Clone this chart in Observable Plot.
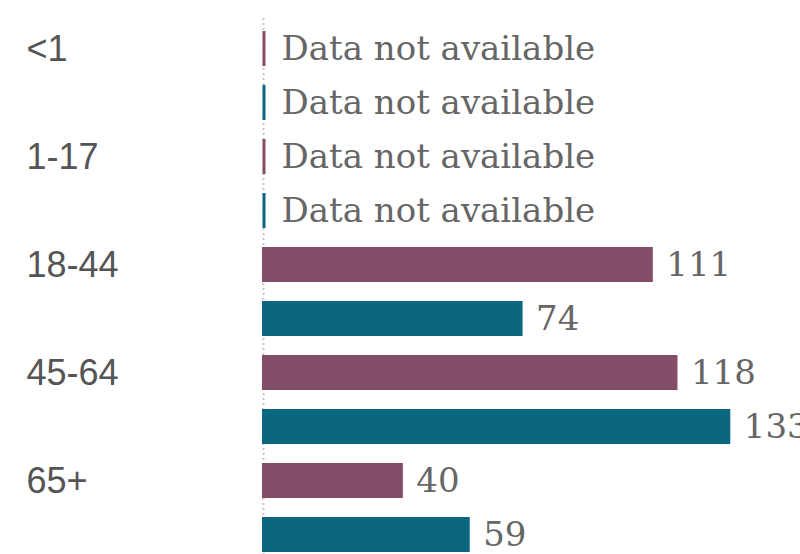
<!DOCTYPE html>
<html>
<head>
<meta charset="utf-8">
<script src="https://cdn.jsdelivr.net/npm/d3@7"></script>
<script src="https://cdn.jsdelivr.net/npm/@observablehq/plot@0.6"></script>
<style>
  html, body { margin: 0; padding: 0; background: #fff; overflow: hidden; }
  #chart svg { overflow: hidden; }
</style>
</head>
<body>
<div id="chart"></div>
<script>
// ---- data ----
const ageGroups = ["<1", "1-17", "18-44", "45-64", "65+"];
const seriesNames = ["Series 1", "Series 2"];
const series1Values = [null, null, 111, 118, 40];
const series2Values = [null, null, 74, 133, 59];
const seriesColors = ["#834c67", "#0b6780"];
const naLabel = "Data not available";

// ---- table built from the arrays ----
const seriesValues = [series1Values, series2Values];
const rows = [];
ageGroups.forEach((g, gi) => {
  seriesNames.forEach((s, si) => {
    rows.push({group: g, series: s, key: g + "|" + s, value: seriesValues[si][gi], first: si === 0});
  });
});
const present = rows.filter(d => d.value != null);
const missing = rows.filter(d => d.value == null);
const groupLabels = rows.filter(d => d.first);

const serif = "'DejaVu Serif', serif";
const sans = "'Liberation Sans', Arial, sans-serif";

const chart = Plot.plot({
  width: 800,
  height: 554,
  marginLeft: 262,
  marginRight: 0,
  marginTop: 18,
  marginBottom: 0,
  x: {domain: [0, 152.8], axis: null},
  y: {domain: rows.map(d => d.key), range: [17, 565], paddingInner: 0.36, paddingOuter: 0.18, axis: null},
  color: {domain: seriesNames, range: seriesColors},
  marks: [
    Plot.ruleX([0], {stroke: "#c8c8c8", strokeWidth: 2, strokeDasharray: "2,3", dx: 1}),
    Plot.barX(present, {x: "value", y: "key", fill: "series"}),
    Plot.tickX(missing, {x: 0, y: "key", stroke: "series", strokeWidth: 3, dx: 1.5}),
    Plot.text(present, {x: "value", y: "key", text: d => String(d.value), textAnchor: "start", dx: 13,
      fill: "#666", fontFamily: serif, fontSize: 34, lineAnchor: "middle"}),
    Plot.text(missing, {x: 0, y: "key", text: () => naLabel, textAnchor: "start", dx: 19,
      fill: "#666", fontFamily: serif, fontSize: 34, lineAnchor: "middle"}),
    Plot.text(groupLabels, {y: "key", text: "group", frameAnchor: "left", textAnchor: "start", dx: -236,
      fill: "#555", fontFamily: sans, fontSize: 36, lineAnchor: "middle"})
  ]
});
document.getElementById("chart").appendChild(chart);
</script>
</body>
</html>
